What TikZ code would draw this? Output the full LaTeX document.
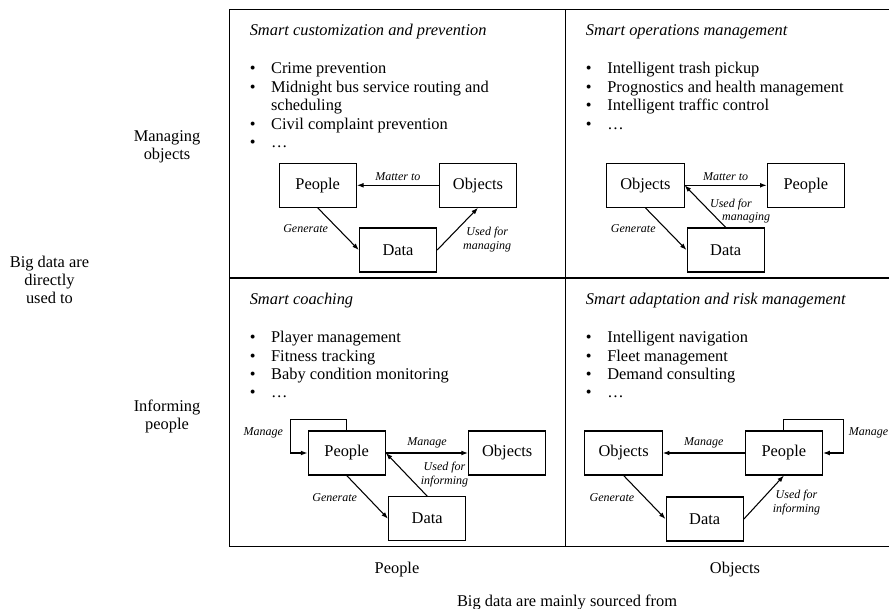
\documentclass[tikz,border=0pt]{standalone}
\usepackage{fontspec}
\setmainfont{Liberation Serif}
\usetikzlibrary{arrows.meta,positioning}

\newcommand{\bulletitem}{\makebox[16pt][l]{\textbullet}}

\begin{document}
\begin{tikzpicture}[
  x=0.75pt, y=-0.75pt,
  >={Latex[length=5pt,width=3.6pt]},
  font=\fontsize{12.3}{13.8}\selectfont,
  grid/.style={line width=1pt},
  entity/.style={draw, line width=0.8pt, minimum width=58pt, minimum height=33pt,
                 inner sep=0pt},
  flow/.style={->, line width=0.8pt},
  lbl/.style={font=\fontsize{9}{10.2}\selectfont\itshape, align=center},
  genlbl/.style={lbl, left, xshift=-4pt},
  title/.style={anchor=base west, inner sep=0pt, font=\fontsize{12.3}{13.8}\selectfont\itshape},
  items/.style={anchor=base west, inner sep=0pt, align=left},
  axis/.style={align=center, anchor=base},
]
\useasboundingbox (0,0) rectangle (889,609);

% quadrant grid
\draw[grid] (889,9.5) -- (229.6,9.5) -- (229.6,546.8) -- (889,546.8);
\draw[grid] (229.6,278) -- (889,278);
\draw[grid] (565.8,9.5) -- (565.8,546.8);

% axis labels (base = last line)
\node[axis] (rowtitle) at (49.5,304) {Big data are\\directly\\used to};
\node[axis] (rowA) at (167,159.5) {Managing\\objects};
\node[axis] (rowB) at (167,430) {Informing\\people};
\node[axis] (colA) at (397,573) {People};
\node[axis] (colB) at (735,573) {Objects};
\node[axis] (coltitle) at (567,606) {Big data are mainly sourced from};

% top left: people -> objects
\node[title] (titleA) at (249.5,36) {Smart customization and prevention};
\node[items] (listA) at (249.5,147.6) {\bulletitem Crime prevention\\
  \bulletitem Midnight bus service routing and\\
  \hspace*{16pt}scheduling\\
  \bulletitem Civil complaint prevention\\
  \bulletitem …};
\node[entity] (peopleA) at (317.7,185.3) {People};
\node[entity] (objectsA) at (478,185.3) {Objects};
\node[entity] (dataA) at (398,250) {Data};
\draw[flow] (objectsA) -- node[lbl, above]{Matter to} (peopleA);
\draw[flow] (peopleA.south) -- node[genlbl]{Generate} (dataA.west);
\draw[flow] (dataA.east) -- node[lbl, right, xshift=0.5pt, yshift=-8pt]{Used for\\managing} (objectsA.south);

% top right: objects -> objects
\node[title] (titleB) at (585.7,36) {Smart operations management};
\node[items] (listB) at (585.7,129.2) {\bulletitem Intelligent trash pickup\\
  \bulletitem Prognostics and health management\\
  \bulletitem Intelligent traffic control\\
  \bulletitem …};
\node[entity] (objectsB) at (645.4,185.3) {Objects};
\node[entity] (peopleB) at (805.9,185.3) {People};
\node[entity] (dataB) at (725.7,250) {Data};
\draw[flow] (objectsB) -- node[lbl, above]{Matter to} (peopleB);
\draw[flow] (objectsB.south) -- node[genlbl]{Generate} (dataB.west);
\draw[flow] (dataB.north) -- node[lbl, anchor=west, align=left, yshift=-3.5pt]{Used for\\\hspace*{9pt}managing} (objectsB.east);

% bottom left: people -> people
\node[title] (titleC) at (249.5,305) {Smart coaching};
\node[items] (listC) at (249.5,398) {\bulletitem Player management\\
  \bulletitem Fitness tracking\\
  \bulletitem Baby condition monitoring\\
  \bulletitem …};
\node[entity] (peopleC) at (346.7,453) {People};
\node[entity] (objectsC) at (507.2,453) {Objects};
\node[entity] (dataC) at (427.2,518.7) {Data};
\draw[flow] (peopleC.north) |- ++(-56,-11) |- node[lbl, left, pos=0.2, xshift=-2pt]{Manage} (peopleC.west);
\draw[flow] (peopleC) -- node[lbl, above]{Manage} (objectsC);
\draw[flow] (peopleC.south) -- node[genlbl]{Generate} (dataC.west);
\draw[flow] (dataC.north) -- node[lbl, right, xshift=7pt]{Used for\\informing} (peopleC.east);

% bottom right: objects -> people
\node[title] (titleD) at (585.7,305) {Smart adaptation and risk management};
\node[items] (listD) at (585.7,398) {\bulletitem Intelligent navigation\\
  \bulletitem Fleet management\\
  \bulletitem Demand consulting\\
  \bulletitem …};
\node[entity] (objectsD) at (623.6,453) {Objects};
\node[entity] (peopleD) at (783.9,453) {People};
\node[entity] (dataD) at (704.7,519) {Data};
\draw[flow] (peopleD.north) |- ++(60,-11) |- node[lbl, right, pos=0.2]{Manage} (peopleD.east);
\draw[flow] (peopleD) -- node[lbl, above]{Manage} (objectsD);
\draw[flow] (objectsD.south) -- node[genlbl]{Generate} (dataD.west);
\draw[flow] (dataD.east) -- node[lbl, right, xshift=3pt, yshift=-4pt]{Used for\\informing} (peopleD.south);
\end{tikzpicture}
\end{document}
